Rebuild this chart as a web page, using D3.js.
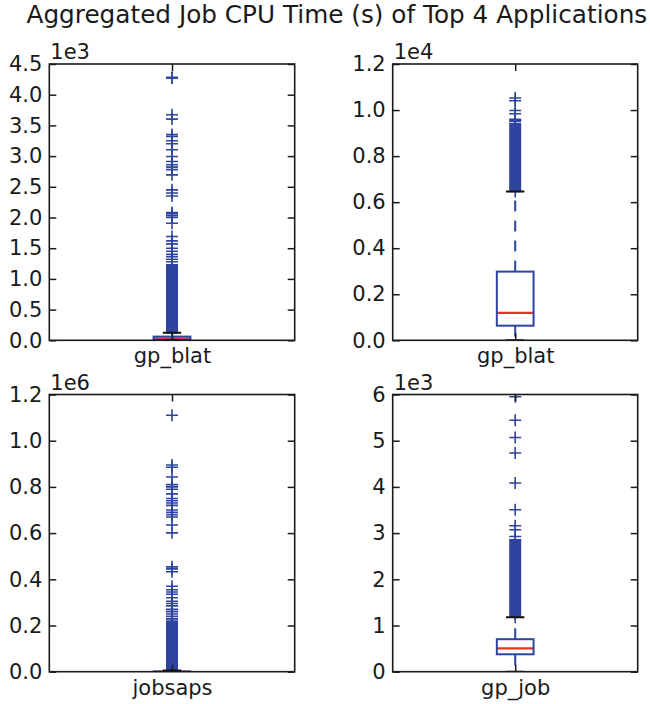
<!DOCTYPE html>
<html>
<head>
<meta charset="utf-8">
<script src="https://cdn.jsdelivr.net/npm/d3@7"></script>
<style>
  html, body { margin: 0; padding: 0; background: #fff; }
  svg { display: block; }
  text { font-family: "DejaVu Sans", sans-serif; fill: #1a1a1a; }
</style>
</head>
<body>
<svg id="chart" width="650" height="704"></svg>
<script>
// ---------------- data ----------------
const titleText = "Aggregated Job CPU Time (s) of Top 4 Applications";
const categories = ["gp_blat", "gp_blat", "jobsaps", "gp_job"];
const exponents = [3, 4, 6, 3];
const yMax = [4500, 12000, 1200000, 6000];
const yTicks = [
  [0, 500, 1000, 1500, 2000, 2500, 3000, 3500, 4000, 4500],
  [0, 2000, 4000, 6000, 8000, 10000, 12000],
  [0, 200000, 400000, 600000, 800000, 1000000, 1200000],
  [0, 1000, 2000, 3000, 4000, 5000, 6000]
];
const tickDecimals = [1, 1, 1, 0];
// box statistics: [lower whisker, q1, median, q3, upper whisker]
const boxStats = [
  [0, 8, 28, 60, 124],
  [0, 635, 1187, 2983, 6461],
  [0, 0, 0, 800, 5000],
  [0, 377, 507, 703, 1180]
];
// dense outlier ranges (markers overlap into a solid column)
const denseOutliers = [
  [[124, 1230]],
  [[6461, 9404]],
  [[5000, 216000]],
  [[1180, 2856]]
];
// individually visible outliers
const sparseOutliers = [
  [4285, 4270, 3673, 3603, 3350, 3320, 3250, 3200, 3103, 2994, 2912, 2860, 2820, 2780, 2695,
   2450, 2400, 2350, 2080, 2060, 2030, 2000, 1907, 1690, 1620, 1570, 1500, 1450, 1400, 1360, 1320, 1280],
  [10522, 10404, 9983, 9839, 9600, 9560, 9500],
  [1110000, 895000, 885000, 843000, 810000, 800000, 790000, 770000, 750000, 740000, 730000, 720000,
   700000, 690000, 680000, 670000, 635000, 601000, 454000, 445000, 433000,
   370000, 355000, 345000, 335000, 320000, 305000, 295000, 285000, 270000, 260000, 250000, 240000, 230000, 224000],
  [5950, 5443, 5068, 4735, 4085, 3506, 3160, 3073, 2928]
];

// ---------------- layout ----------------
const panels = [
  { x0: 49.3, x1: 294.7, y0: 64, y1: 340.3 },
  { x0: 392.7, x1: 637.7, y0: 64, y1: 340.3 },
  { x0: 49.3, x1: 294.7, y0: 394.5, y1: 671.7 },
  { x0: 392.7, x1: 637.7, y0: 394.5, y1: 671.7 }
];
const blue = "#2e44a0";
const red = "#e2342a";
const dark = "#1a1a1a";
const tickLen = 7;
const markerSize = 12;

const svg = d3.select("#chart");

// title, fitted to the reference span
const title = svg.append("text")
  .attr("x", 26.5).attr("y", 23)
  .attr("text-anchor", "start")
  .style("font-size", "24px")
  .text(titleText);
const tw = title.node().getComputedTextLength();
if (tw > 0) title.style("font-size", (24 * 621 / tw).toFixed(2) + "px");

panels.forEach((p, i) => {
  const g = svg.append("g");
  const x = d3.scaleLinear().domain([0.5, 1.5]).range([p.x0, p.x1]);
  const y = d3.scaleLinear().domain([0, yMax[i]]).range([p.y1, p.y0]);
  const mult = Math.pow(10, exponents[i]);
  const fmt = d => (d / mult).toFixed(tickDecimals[i]);

  const clipId = "clip" + i;
  svg.append("clipPath").attr("id", clipId)
    .append("rect").attr("x", p.x0).attr("y", p.y0)
    .attr("width", p.x1 - p.x0).attr("height", p.y1 - p.y0);

  const plot = g.append("g").attr("clip-path", `url(#${clipId})`);
  const [lw, q1, med, q3, uw] = boxStats[i];
  const cx = x(1);
  const bw = x(1.075) - x(1);
  const cw = x(1.0375) - x(1);

  // whiskers (dashed, starting at box edge)
  plot.append("line").attr("x1", cx).attr("x2", cx).attr("y1", y(q3)).attr("y2", y(uw))
    .attr("stroke", blue).attr("stroke-width", 2).attr("stroke-dasharray", "11,9");
  plot.append("line").attr("x1", cx).attr("x2", cx).attr("y1", y(q1)).attr("y2", y(lw))
    .attr("stroke", blue).attr("stroke-width", 2).attr("stroke-dasharray", "11,9");

  // median
  plot.append("line").attr("x1", cx - bw).attr("x2", cx + bw).attr("y1", y(med)).attr("y2", y(med))
    .attr("stroke", red).attr("stroke-width", 2.2);
  // box
  plot.append("rect").attr("x", cx - bw).attr("width", 2 * bw)
    .attr("y", y(q3)).attr("height", Math.max(0.5, y(q1) - y(q3)))
    .attr("fill", "none").attr("stroke", blue).attr("stroke-width", 2);

  // dense outlier columns
  denseOutliers[i].forEach(([a, b]) => {
    plot.append("rect").attr("x", cx - markerSize / 2).attr("width", markerSize)
      .attr("y", y(b)).attr("height", y(a) - y(b))
      .attr("fill", blue);
    [a, b].forEach(v => {
      plot.append("path").attr("d", `M${cx - markerSize / 2},${y(v)}h${markerSize}M${cx},${y(v) - markerSize / 2}v${markerSize}`)
        .attr("stroke", blue).attr("stroke-width", 1.6).attr("fill", "none");
    });
  });
  // sparse outliers as '+'
  plot.selectAll("path.flier").data(sparseOutliers[i]).enter().append("path")
    .attr("class", "flier")
    .attr("d", v => `M${cx - markerSize / 2},${y(v)}h${markerSize}M${cx},${y(v) - markerSize / 2}v${markerSize}`)
    .attr("stroke", blue).attr("stroke-width", 1.6).attr("fill", "none");

  // caps
  [lw, uw].forEach(v => {
    plot.append("line").attr("x1", cx - cw).attr("x2", cx + cw).attr("y1", y(v)).attr("y2", y(v))
      .attr("stroke", "#111").attr("stroke-width", 2);
  });

  // axes
  const left = d3.axisLeft(y).tickValues(yTicks[i]).tickFormat(fmt)
    .tickSizeInner(-tickLen).tickSizeOuter(0).tickPadding(7);
  const right = d3.axisRight(y).tickValues(yTicks[i]).tickFormat("")
    .tickSizeInner(-tickLen).tickSizeOuter(0);
  const bottom = d3.axisBottom(x).tickValues([1]).tickFormat(() => categories[i])
    .tickSizeInner(-tickLen).tickSizeOuter(0).tickPadding(8);
  const top = d3.axisTop(x).tickValues([1]).tickFormat("")
    .tickSizeInner(-tickLen).tickSizeOuter(0);

  const styleAxis = sel => {
    sel.select(".domain").remove();
    sel.selectAll(".tick line").attr("stroke", dark).attr("stroke-width", 1.5);
    sel.selectAll(".tick text").style("font-size", "21px").attr("fill", dark)
      .style("font-family", '"DejaVu Sans", sans-serif');
  };
  g.append("g").attr("transform", `translate(${p.x0},0)`).call(left).call(styleAxis);
  g.append("g").attr("transform", `translate(${p.x1},0)`).call(right).call(styleAxis);
  g.append("g").attr("transform", `translate(0,${p.y1})`).call(bottom).call(styleAxis);
  g.append("g").attr("transform", `translate(0,${p.y0})`).call(top).call(styleAxis);

  // frame
  g.append("rect").attr("x", p.x0).attr("y", p.y0)
    .attr("width", p.x1 - p.x0).attr("height", p.y1 - p.y0)
    .attr("fill", "none").attr("stroke", dark).attr("stroke-width", 1.6);

  // offset text
  g.append("text").attr("x", p.x0 + 1).attr("y", p.y0 - 5)
    .style("font-size", "21px").text("1e" + exponents[i]);
});
</script>
</body>
</html>
